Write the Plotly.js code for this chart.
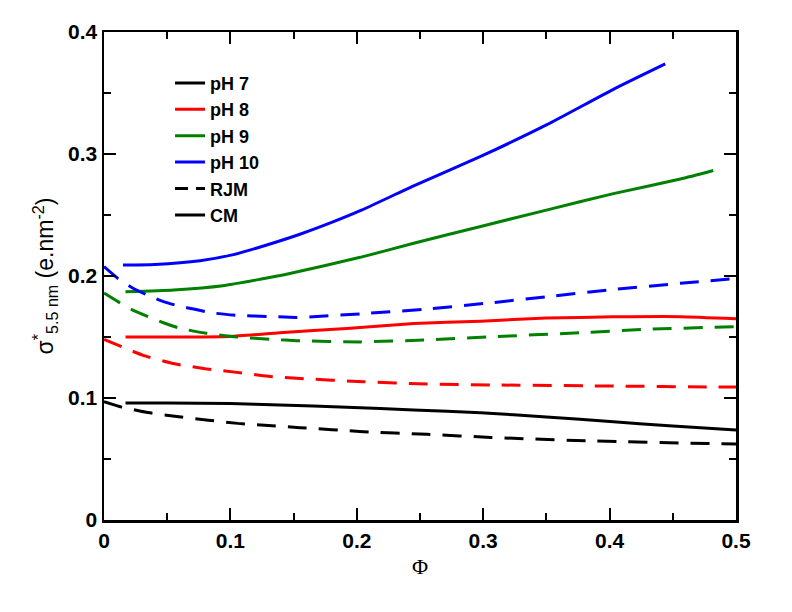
<!DOCTYPE html>
<html>
<head>
<meta charset="utf-8">
<script src="https://cdn.plot.ly/plotly-3.0.1.min.js"></script>
<style>html,body{margin:0;padding:0;background:#fff;}#chart{width:792px;height:612px;}</style>
</head>
<body>
<div id="chart"></div>
<script>
// ---- data ----
const ph7CM_x  = [0.017, 0.05, 0.1, 0.139, 0.192, 0.245, 0.298, 0.35, 0.403, 0.45, 0.5];
const ph7CM_y  = [0.096, 0.096, 0.0955, 0.0943, 0.0924, 0.0902, 0.0879, 0.0845, 0.0806, 0.077, 0.0738];
const ph7RJM_x = [0, 0.014, 0.0325, 0.056, 0.0826, 0.106, 0.133, 0.155, 0.205, 0.2555, 0.306, 0.385, 0.482, 0.5];
const ph7RJM_y = [0.097, 0.0925, 0.0885, 0.085, 0.0818, 0.0792, 0.0772, 0.0757, 0.0724, 0.0702, 0.0677, 0.0648, 0.0626, 0.0623];

const ph8CM_x  = [0.017, 0.05, 0.1, 0.139, 0.192, 0.245, 0.298, 0.35, 0.403, 0.456, 0.5];
const ph8CM_y  = [0.150, 0.150, 0.1505, 0.1535, 0.157, 0.161, 0.163, 0.1655, 0.1665, 0.1667, 0.165];
const ph8RJM_x = [0, 0.014, 0.031, 0.056, 0.08, 0.105, 0.13, 0.155, 0.205, 0.2555, 0.306, 0.403, 0.482, 0.5];
const ph8RJM_y = [0.148, 0.142, 0.135, 0.128, 0.124, 0.121, 0.1178, 0.116, 0.1134, 0.1115, 0.1107, 0.1098, 0.109, 0.109];

const ph9CM_x  = [0.017, 0.055, 0.094, 0.1235, 0.147, 0.2027, 0.245, 0.298, 0.35, 0.403, 0.456, 0.482];
const ph9CM_y  = [0.187, 0.1885, 0.192, 0.1973, 0.202, 0.2153, 0.2268, 0.2406, 0.254, 0.2675, 0.2795, 0.2865];
const ph9RJM_x = [0, 0.011, 0.022, 0.035, 0.047, 0.059, 0.071, 0.081, 0.105, 0.134, 0.1525, 0.203, 0.253, 0.303, 0.377, 0.43, 0.5];
const ph9RJM_y = [0.186, 0.179, 0.1725, 0.1667, 0.1617, 0.1575, 0.1548, 0.153, 0.150, 0.148, 0.147, 0.146, 0.1475, 0.150, 0.1535, 0.1563, 0.1585];

const ph10CM_x  = [0.015, 0.04, 0.076, 0.1024, 0.1288, 0.155, 0.1816, 0.2027, 0.245, 0.298, 0.35, 0.403, 0.444];
const ph10CM_y  = [0.209, 0.2095, 0.2125, 0.2175, 0.2254, 0.2342, 0.2445, 0.2535, 0.2738, 0.298, 0.3238, 0.353, 0.3738];
const ph10RJM_x = [0, 0.011, 0.023, 0.035, 0.047, 0.059, 0.072, 0.084, 0.102, 0.134, 0.1525, 0.203, 0.253, 0.306, 0.35, 0.403, 0.456, 0.5];
const ph10RJM_y = [0.2077, 0.198, 0.19, 0.184, 0.179, 0.1754, 0.1727, 0.170, 0.168, 0.1667, 0.166, 0.169, 0.1727, 0.178, 0.183, 0.189, 0.194, 0.198];

const legendLabels = ["pH 7", "pH 8", "pH 9", "pH 10", "RJM", "CM"];
const xTickVals = [0, 0.1, 0.2, 0.3, 0.4, 0.5];
const xTickText = ["0", "0.1", "0.2", "0.3", "0.4", "0.5"];
const yTickVals = [0, 0.1, 0.2, 0.3, 0.4];
const yTickText = ["0", "0.1", "0.2", "0.3", "0.4"];

// ---- styles ----
const BLACK = "#000000", RED = "#ff0000", GREEN = "#008000", BLUE = "#0000ff";
const DASH = "19px,12px";
const LW = 3;

function curve(x, y, color, dash) {
  return {x: x, y: y, type: "scatter", mode: "lines", showlegend: false,
          line: {color: color, width: LW, dash: dash, shape: "spline", smoothing: 0.5},
          hoverinfo: "skip"};
}
function legendItem(name, color, dash, g) {
  return {x: [null], y: [null], type: "scatter", mode: "lines", name: name,
          legendgroup: g, line: {color: color, width: LW, dash: dash}};
}

const traces = [
  curve(ph7CM_x, ph7CM_y, BLACK, "solid"),
  curve(ph7RJM_x, ph7RJM_y, BLACK, DASH),
  curve(ph8CM_x, ph8CM_y, RED, "solid"),
  curve(ph8RJM_x, ph8RJM_y, RED, DASH),
  curve(ph9CM_x, ph9CM_y, GREEN, "solid"),
  curve(ph9RJM_x, ph9RJM_y, GREEN, DASH),
  curve(ph10CM_x, ph10CM_y, BLUE, "solid"),
  curve(ph10RJM_x, ph10RJM_y, BLUE, DASH),
  legendItem(legendLabels[0], BLACK, "solid", "g1"),
  legendItem(legendLabels[1], RED, "solid", "g2"),
  legendItem(legendLabels[2], GREEN, "solid", "g3"),
  legendItem(legendLabels[3], BLUE, "solid", "g4"),
  legendItem(legendLabels[4], BLACK, "13px,8px", "g5"),
  legendItem(legendLabels[5], BLACK, "solid", "g6")
];

const tickFont = {family: "Liberation Sans, Arial, sans-serif", size: 21, color: "#000", weight: "bold"};
const axisCommon = {
  showline: true, linewidth: 2.5, linecolor: "#000", mirror: "ticks",
  ticks: "inside", ticklen: 12, tickwidth: 2, tickcolor: "#000",
  showgrid: false, zeroline: false, tickfont: tickFont,
  minor: {ticks: "inside", ticklen: 7, tickwidth: 2, tickcolor: "#000", dtick: 0.05, showgrid: false}
};

const layout = {
  width: 792, height: 612,
  paper_bgcolor: "#fff", plot_bgcolor: "#fff",
  margin: {l: 104, r: 56, t: 32, b: 92},
  showlegend: true,
  legend: {x: 0.1045, y: 0.933, xanchor: "left", yanchor: "top",
           bgcolor: "rgba(0,0,0,0)", borderwidth: 0, tracegroupgap: 0,
           font: {family: "Liberation Sans, Arial, sans-serif", size: 18, color: "#000", weight: "bold"}},
  xaxis: Object.assign({}, axisCommon, {
    range: [0, 0.5], tickvals: xTickVals, ticktext: xTickText,
    title: {text: "Φ", standoff: 8, font: {family: "Liberation Serif, Times New Roman, serif", size: 22, color: "#000"}}
  }),
  yaxis: Object.assign({}, axisCommon, {
    range: [0, 0.4], tickvals: yTickVals, ticktext: yTickText,
    title: {text: "σ<sup>*</sup><sub>5.5 nm</sub> (e.nm<sup>-2</sup>)", standoff: 8,
            font: {family: "Liberation Sans, Arial, sans-serif", size: 23, color: "#000"}}
  })
};

Plotly.newPlot("chart", traces, layout, {staticPlot: true, displayModeBar: false});
</script>
</body>
</html>
